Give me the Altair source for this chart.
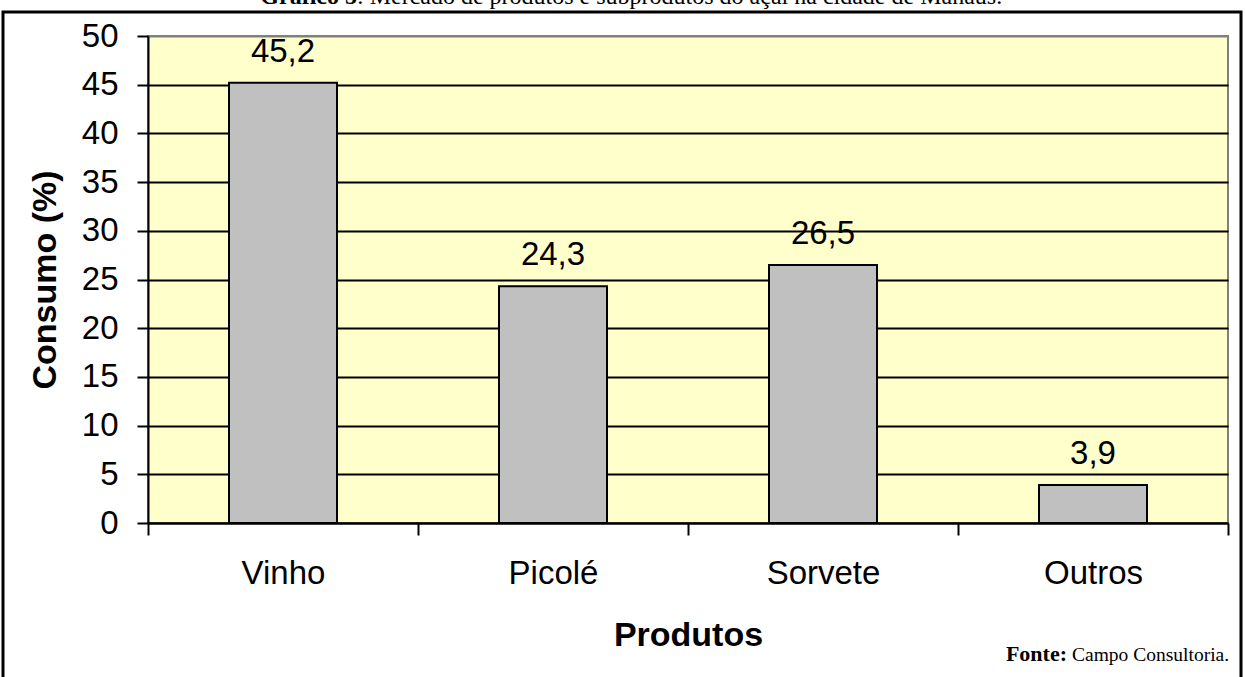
import altair as alt
import pandas as pd

produtos = ["Vinho", "Picolé", "Sorvete", "Outros"]
consumo = [45.2, 24.3, 26.5, 3.9]
rotulos = ["45,2", "24,3", "26,5", "3,9"]
y_ticks = [0, 5, 10, 15, 20, 25, 30, 35, 40, 45, 50]

df = pd.DataFrame({"Produtos": produtos, "Consumo": consumo, "Rotulo": rotulos})

SANS = "Arial, Liberation Sans, sans-serif"
SERIF = "Times New Roman, Liberation Serif, serif"

x_enc = alt.X(
    "Produtos:N",
    sort=produtos,
    scale=alt.Scale(paddingInner=0, paddingOuter=0),
    axis=alt.Axis(
        title="Produtos",
        labelAngle=0,
        labelFont=SANS,
        labelFontSize=33,
        labelColor="black",
        labelPadding=22,
        tickBand="extent",
        tickSize=12,
        tickWidth=2,
        tickColor="black",
        domainColor="black",
        domainWidth=2,
        titleFont=SANS,
        titleFontSize=34,
        titleFontWeight="bold",
        titleColor="black",
        titlePadding=28,
        grid=False,
    ),
)

y_enc = alt.Y(
    "Consumo:Q",
    scale=alt.Scale(domain=[0, 50], nice=False),
    axis=alt.Axis(
        title="Consumo (%)",
        values=y_ticks,
        labelFont=SANS,
        labelFontSize=33,
        labelColor="black",
        labelPadding=19,
        tickSize=11,
        tickWidth=2,
        tickColor="black",
        domainColor="black",
        domainWidth=2,
        grid=True,
        gridColor={"condition": {"test": "datum.value == 50", "value": "#808080"}, "value": "black"},
        gridWidth=2,
        titleFont=SANS,
        titleFontSize=34,
        titleFontWeight="bold",
        titleColor="black",
        titlePadding=19,
    ),
)

base = alt.Chart(df).encode(x=x_enc, y=y_enc)

bars = base.mark_bar(
    width=alt.RelativeBandSize(0.4),
    color="#C0C0C0",
    stroke="black",
    strokeWidth=2,
)

labels = base.mark_text(
    font=SANS, fontSize=33, color="black", baseline="alphabetic", dy=-21
).encode(text="Rotulo:N")

one = pd.DataFrame({"k": [0]})

border = alt.Chart(one).mark_rect(
    fill=None, fillOpacity=0, stroke="black", strokeWidth=3
).encode(
    x=alt.value(-145), x2=alt.value(1093), y=alt.value(-24), y2=alt.value(660)
)

title_bold = alt.Chart(one).mark_text(
    font=SERIF, fontSize=24, fontWeight="bold", align="right", baseline="alphabetic", color="black"
).encode(x=alt.value(209), y=alt.value(-32), text=alt.value("Gráfico 5"))

title_rest = alt.Chart(one).mark_text(
    font=SERIF, fontSize=24, align="left", baseline="alphabetic", color="black"
).encode(x=alt.value(209), y=alt.value(-32),
         text=alt.value(": Mercado de produtos e subprodutos do açaí na cidade de Manaus."))

fonte_bold = alt.Chart(one).mark_text(
    font=SERIF, fontSize=22, fontWeight="bold", align="right", baseline="alphabetic", color="black"
).encode(x=alt.value(919), y=alt.value(625), text=alt.value("Fonte:"))

fonte_rest = alt.Chart(one).mark_text(
    font=SERIF, fontSize=19.5, align="left", baseline="alphabetic", color="black"
).encode(x=alt.value(924), y=alt.value(625), text=alt.value("Campo Consultoria."))

chart = alt.layer(
    bars, labels, border, title_bold, title_rest, fonte_bold, fonte_rest
).properties(
    width=1080,
    height=487,
    autosize=alt.AutoSizeParams(type="none"),
    padding={"left": 148, "top": 36, "right": 17, "bottom": 154},
    background="white",
).configure_view(
    fill="#FFFFCC",
    stroke="#808080",
    strokeWidth=2,
)

chart.save("out.html", embed_options={"renderer": "svg", "actions": False})
